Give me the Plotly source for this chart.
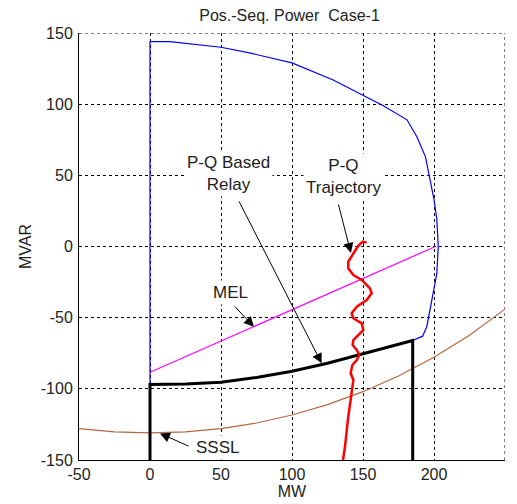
import plotly.graph_objects as go

# Capability curve (blue)
cap_x = [0, 0, 14, 50, 70, 100, 129, 151, 164, 181, 188, 194, 197, 200, 202, 203, 202, 198, 195, 192, 185,
         175, 150, 125, 100, 75, 50, 25, 0]
cap_y = [-97, 144, 144, 140, 136, 129, 117, 106, 99, 89, 77, 63, 49, 33, 19, 0, -19, -40, -56, -63, -66,
         -68.5, -75.3, -82, -87.7, -92, -95.4, -96.6, -97]

# P-Q based relay boundary (thick black)
relay_x = [0, 0, 25, 50, 75, 100, 125, 150, 175, 185, 185]
relay_y = [-152, -97, -96.6, -95.4, -92, -87.7, -82, -75.3, -68.5, -66, -152]

# MEL line (magenta)
mel_x = [0, 201]
mel_y = [-88.4, 0]

# SSSL curve (brown)
sssl_x = [-50, -25, 0, 25, 50, 75, 100, 125, 150, 175, 200, 225, 250]
sssl_y = [-127.9, -130.2, -131, -130.2, -127.9, -124, -118.4, -111.1, -102, -91, -77.8, -62.3, -44]

# P-Q trajectory (red)
traj_x = [152.6, 149.8, 146.5, 143.2, 139.6, 139.6, 143.2, 149.1, 154.9, 156.1, 152.6, 145.6, 142.0, 143.2,
          149.1, 150.2, 146.7, 143.2, 142.7, 145.6, 147.4, 145.6, 142.5, 141.3, 143.2, 142.0, 141.3, 139.6,
          138.5, 137.3, 136.1, 135.8]
traj_y = [2.7, 3.4, 0.3, -4.8, -10.7, -15.3, -20.0, -23.5, -29.4, -32.9, -37.6, -42.3, -46.9, -50.4,
          -54.0, -58.7, -62.2, -65.7, -69.2, -72.7, -76.2, -79.8, -83.3, -89.1, -93.8, -100.8, -107.9, -119.6,
          -131.2, -140.7, -148.8, -152]

x_ticks = [-50, 0, 50, 100, 150, 200, 250]
x_ticktext = ["-50", "0", "50", "100", "150", "200", "250"]
y_ticks = [-150, -100, -50, 0, 50, 100, 150]
y_ticktext = ["-150", "-100", "-50", "0", "50", "100", "150"]

FONT = "Liberation Sans, Arial, sans-serif"
TXT = "#222222"

fig = go.Figure()
fig.add_trace(go.Scatter(x=sssl_x, y=sssl_y, mode="lines", line=dict(color="#b8663f", width=1.2)))
fig.add_trace(go.Scatter(x=mel_x, y=mel_y, mode="lines", line=dict(color="#ff00ff", width=1.2)))
fig.add_trace(go.Scatter(x=cap_x, y=cap_y, mode="lines", line=dict(color="#0000ff", width=1.2)))
fig.add_trace(go.Scatter(x=relay_x, y=relay_y, mode="lines", line=dict(color="black", width=3)))
fig.add_trace(go.Scatter(x=traj_x, y=traj_y, mode="lines", line=dict(color="#ff0000", width=2.5)))

# Edge grid lines (top and right) drawn dotted
fig.add_shape(type="line", xref="x", yref="y", x0=-50, x1=250, y0=150, y1=150, layer="below",
              line=dict(color="black", width=1, dash="3px,3px"))
fig.add_shape(type="line", xref="x", yref="y", x0=250, x1=250, y0=-150, y1=150, layer="below",
              line=dict(color="black", width=1, dash="3px,3px"))

# Text labels with white background (hide grid behind)
labels = [
    ("P-Q Based<br>Relay", 55, 51.5),
    ("P-Q<br>Trajectory", 136, 49),
    ("MEL", 57, -32),
    ("SSSL", 47.5, -141),
]
for t, x, y in labels:
    fig.add_annotation(x=x, y=y, xref="x", yref="y", text=t, showarrow=False,
                       font=dict(family=FONT, size=17, color=TXT), bgcolor="white",
                       borderpad=2)

# Arrows (tail -> head)
arrows = [
    (62.2, 32.7, 120.9, -82.1),
    (132.4, 30.6, 141.5, -4.6),
    (58.7, -41.1, 73.2, -56.4),
    (28.2, -140.7, 7.0, -131.3),
]
for ax, ay, x, y in arrows:
    fig.add_annotation(x=x, y=y, ax=ax, ay=ay, xref="x", yref="y", axref="x", ayref="y",
                       text="", showarrow=True, arrowhead=2, arrowsize=2, arrowwidth=1,
                       arrowcolor="black")

axis_common = dict(
    showgrid=True, gridcolor="black", gridwidth=1, griddash="3px,3px",
    showline=True, linecolor="black", linewidth=1, mirror=False, automargin=False,
    zeroline=False, ticks="", tickfont=dict(family=FONT, size=16, color=TXT),
)

fig.update_layout(
    width=517, height=504,
    margin=dict(l=79, r=12, t=33, b=44),
    paper_bgcolor="white", plot_bgcolor="white",
    showlegend=False,
    title=dict(text="Pos.-Seq. Power\u00a0 Case-1", x=0.56, xanchor="center", y=0.97, yanchor="middle",
               font=dict(family=FONT, size=16, color=TXT)),
    xaxis=dict(range=[-50, 250], tickvals=x_ticks, ticktext=x_ticktext, ticklabelstandoff=0,
               title=dict(text="MW", font=dict(family=FONT, size=16, color=TXT), standoff=3),
               **axis_common),
    yaxis=dict(range=[-150, 150], tickvals=y_ticks, ticktext=y_ticktext, ticklabelstandoff=2,
               title=dict(text="MVAR", font=dict(family=FONT, size=16, color=TXT), standoff=5),
               **axis_common),
)

fig.write_html("out.html")
